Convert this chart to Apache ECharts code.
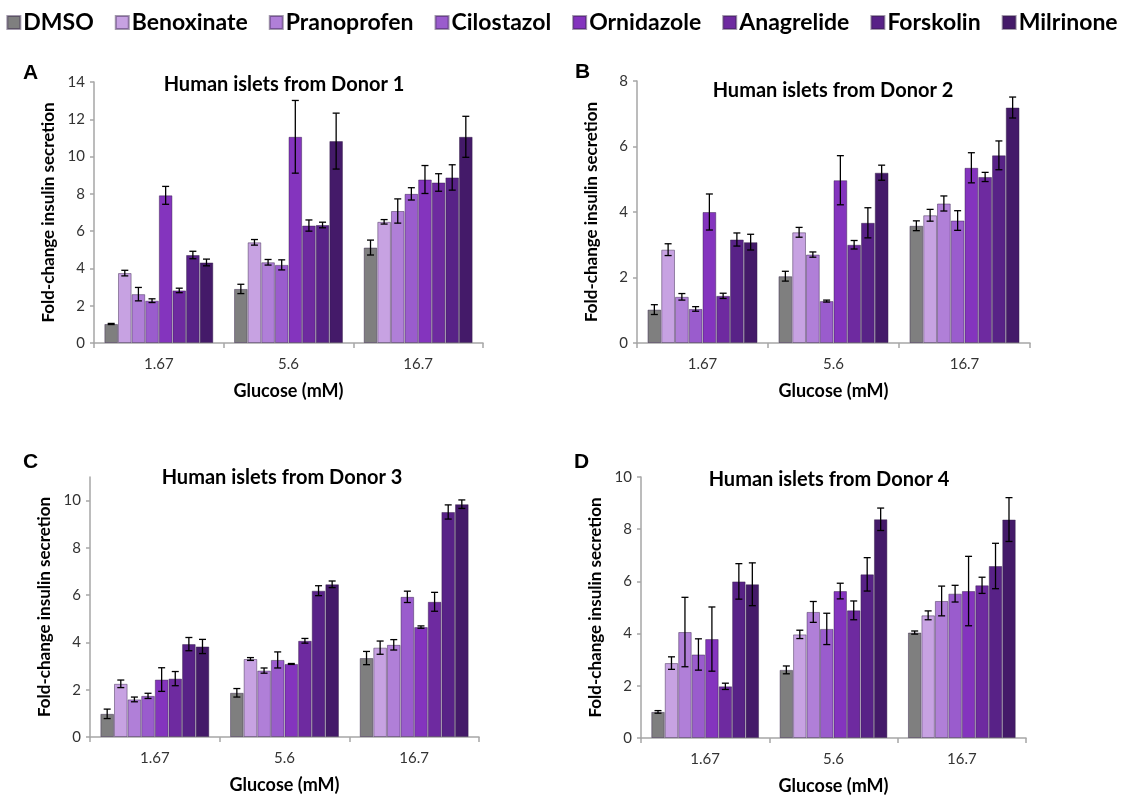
<!DOCTYPE html>
<html>
<head>
<meta charset="utf-8">
<script src="https://cdn.jsdelivr.net/npm/echarts@6/dist/echarts.min.js"></script>
<style>
html,body{margin:0;padding:0;background:#fff;}
#c{width:1124px;height:796px;}
</style>
</head>
<body>
<div id="c"></div>
<script>
const categories = ['1.67', '5.6', '16.7'];
const drugs = ['DMSO', 'Benoxinate', 'Pranoprofen', 'Cilostazol', 'Ornidazole', 'Anagrelide', 'Forskolin', 'Milrinone'];
const drugColors = ['#7f7f7f', '#c7a2e2', '#b07fd8', '#9a5ccd', '#8434be', '#6e2aa0', '#582287', '#441a69'];
const panelTitles = ['Human islets from Donor 1', 'Human islets from Donor 2', 'Human islets from Donor 3', 'Human islets from Donor 4'];
const panelLetters = ['A', 'B', 'C', 'D'];
const yMaxes = [14, 8, 11, 10];
const yTickLabels = [
  [0, 2, 4, 6, 8, 10, 12, 14],
  [0, 2, 4, 6, 8],
  [0, 2, 4, 6, 8, 10],
  [0, 2, 4, 6, 8, 10]
];

// mean values: one row per drug, one column per glucose level
const donor1Mean = [
  [1.02, 2.90, 5.12],
  [3.75, 5.40, 6.50],
  [2.62, 4.33, 7.08],
  [2.27, 4.19, 8.00],
  [7.92, 11.06, 8.77],
  [2.82, 6.30, 8.61],
  [4.72, 6.33, 8.88],
  [4.32, 10.83, 11.06]
];
const donor1Err = [
  [0.03, 0.25, 0.40],
  [0.15, 0.15, 0.12],
  [0.36, 0.15, 0.65],
  [0.10, 0.27, 0.33],
  [0.48, 1.95, 0.75],
  [0.12, 0.30, 0.47],
  [0.20, 0.15, 0.68],
  [0.18, 1.50, 1.10]
];
const donor2Mean = [
  [1.02, 2.04, 3.58],
  [2.85, 3.38, 3.90],
  [1.41, 2.70, 4.26],
  [1.04, 1.28, 3.74],
  [4.00, 4.97, 5.35],
  [1.44, 3.00, 5.07],
  [3.16, 3.67, 5.73],
  [3.08, 5.20, 7.19]
];
const donor2Err = [
  [0.15, 0.15, 0.15],
  [0.18, 0.15, 0.18],
  [0.10, 0.08, 0.23],
  [0.07, 0.03, 0.30],
  [0.55, 0.75, 0.46],
  [0.08, 0.13, 0.14],
  [0.20, 0.46, 0.44],
  [0.24, 0.23, 0.32]
];
const donor3Mean = [
  [0.98, 1.87, 3.34],
  [2.25, 3.30, 3.78],
  [1.59, 2.81, 3.90],
  [1.74, 3.26, 5.93],
  [2.43, 3.09, 4.65],
  [2.47, 4.07, 5.72],
  [3.93, 6.19, 9.52],
  [3.83, 6.46, 9.85]
];
const donor3Err = [
  [0.20, 0.18, 0.28],
  [0.16, 0.06, 0.28],
  [0.10, 0.11, 0.22],
  [0.11, 0.34, 0.24],
  [0.50, 0.02, 0.05],
  [0.30, 0.10, 0.40],
  [0.28, 0.21, 0.30],
  [0.30, 0.14, 0.18]
];
const donor4Mean = [
  [1.00, 2.61, 4.04],
  [2.87, 3.97, 4.70],
  [4.06, 4.83, 5.25],
  [3.20, 4.18, 5.53],
  [3.79, 5.63, 5.63],
  [1.98, 4.89, 5.85],
  [6.00, 6.27, 6.59],
  [5.89, 8.38, 8.37]
];
const donor4Err = [
  [0.05, 0.15, 0.06],
  [0.24, 0.16, 0.17],
  [1.33, 0.40, 0.57],
  [0.60, 0.60, 0.32],
  [1.23, 0.30, 1.33],
  [0.12, 0.36, 0.31],
  [0.68, 0.64, 0.87],
  [0.82, 0.43, 0.84]
];

const means = [donor1Mean, donor2Mean, donor3Mean, donor4Mean];
const errs = [donor1Err, donor2Err, donor3Err, donor4Err];

const FONT = 'Lato';
const gridBoxes = [
  {left: 94, top: 82, width: 389, height: 261},
  {left: 637, top: 81, width: 393, height: 262},
  {left: 90, top: 477, width: 389, height: 260},
  {left: 641, top: 477, width: 385, height: 261}
];
const titlePos = [[279, 70], [828, 76], [277, 463], [824, 465]];
const letterPos = [[18, 58], [570, 57], [18, 447], [569, 447]];

const CAT_GAP = 0.16;
const nDrugs = drugs.length;

const grids = [], xAxes = [], yAxes = [], series = [], titles = [];
for (let p = 0; p < 4; p++) {
  grids.push(Object.assign({containLabel: false}, gridBoxes[p]));
  xAxes.push({
    type: 'category', gridIndex: p, data: categories,
    name: 'Glucose (mM)', nameLocation: 'middle', nameGap: 39,
    nameTextStyle: {fontFamily: FONT, fontWeight: 'bold', fontSize: 18, color: '#000'},
    axisLine: {lineStyle: {color: '#a6a6a6', width: 1.5}},
    axisTick: {show: true, length: 5, lineStyle: {color: '#a6a6a6', width: 1.5}},
    axisLabel: {fontFamily: FONT, fontSize: 15, color: '#333', margin: 14}
  });
  yAxes.push({
    type: 'value', gridIndex: p, min: 0, max: yMaxes[p], interval: 2,
    name: 'Fold-change insulin secretion', nameLocation: 'middle', nameGap: 37,
    nameTextStyle: {fontFamily: FONT, fontWeight: 'bold', fontSize: 17, color: '#000'},
    splitLine: {show: false},
    axisLine: {show: true, lineStyle: {color: '#a6a6a6', width: 1.5}},
    axisTick: {show: true, length: 4, lineStyle: {color: '#a6a6a6', width: 1.5}, customValues: yTickLabels[p]},
    axisLabel: {fontFamily: FONT, fontSize: 15, color: '#333', margin: 9, customValues: yTickLabels[p]}
  });
  titles.push({
    text: panelTitles[p], left: titlePos[p][0], top: titlePos[p][1], textAlign: 'center',
    textStyle: {fontFamily: FONT, fontWeight: 'bold', fontSize: 20, color: '#000'}
  });
  titles.push({
    text: panelLetters[p], left: letterPos[p][0], top: letterPos[p][1],
    textStyle: {fontFamily: 'Liberation Sans', fontWeight: 'bold', fontSize: 21, color: '#000'}
  });
  for (let d = 0; d < nDrugs; d++) {
    series.push({
      type: 'bar', name: drugs[d], xAxisIndex: p, yAxisIndex: p,
      data: means[p][d], barGap: 0, barCategoryGap: (CAT_GAP * 100) + '%',
      itemStyle: {color: drugColors[d], borderColor: 'rgba(50,30,70,0.45)', borderWidth: 1},
      emphasis: {disabled: true}
    });
  }
  const errData = [];
  for (let d = 0; d < nDrugs; d++) {
    for (let c = 0; c < categories.length; c++) {
      errData.push([c, d, means[p][d][c], errs[p][d][c]]);
    }
  }
  series.push({
    type: 'custom', name: 'err' + p, xAxisIndex: p, yAxisIndex: p, z: 10,
    data: errData, encode: {x: 0, y: 2},
    renderItem: function (params, api) {
      const c = api.value(0), d = api.value(1), v = api.value(2), e = api.value(3);
      const band = api.size([1, 0])[0];
      const barW = band * (1 - CAT_GAP) / nDrugs;
      const base = api.coord([c, v]);
      const x = base[0] - band * (1 - CAT_GAP) / 2 + (d + 0.5) * barW;
      const hi = api.coord([c, v + e])[1];
      const lo = api.coord([c, v - e])[1];
      const cap = 3.5;
      const style = {stroke: '#000', lineWidth: 1.3, fill: null};
      return {
        type: 'group',
        children: [
          {type: 'line', shape: {x1: x, y1: hi, x2: x, y2: lo}, style: style},
          {type: 'line', shape: {x1: x - cap, y1: hi, x2: x + cap, y2: hi}, style: style},
          {type: 'line', shape: {x1: x - cap, y1: lo, x2: x + cap, y2: lo}, style: style}
        ]
      };
    }
  });
}

const chart = echarts.init(document.getElementById('c'), null, {renderer: 'canvas'});
chart.setOption({
  animation: false,
  backgroundColor: '#fff',
  title: titles,
  legend: {
    data: drugs, top: 6, left: 'center', itemWidth: 13, itemHeight: 13, itemGap: 21,
    icon: 'rect',
    textStyle: {fontFamily: FONT, fontWeight: 'bold', fontSize: 23, color: '#000', padding: [0, 0, 0, -2]}
  },
  grid: grids, xAxis: xAxes, yAxis: yAxes, series: series
});
</script>
</body>
</html>
